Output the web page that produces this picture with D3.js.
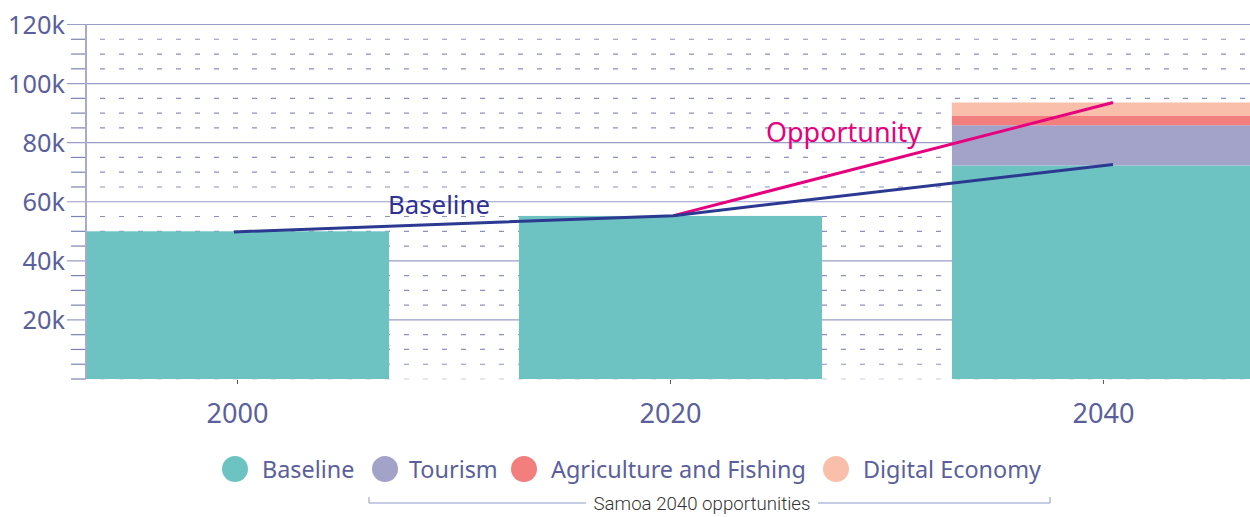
<!DOCTYPE html>
<html><head><meta charset="utf-8">
<script src="https://cdn.jsdelivr.net/npm/d3@7"></script>
<style>body{margin:0;background:#fff}svg{display:block;font-family:"Noto Sans",Roboto,sans-serif}</style>
</head><body><svg id="c" width="1250" height="517"></svg>
<script>
const categories = ["2000","2020","2040"];
const years = [2000,2020,2040];
const baselineVals = [50, 55.2, 72.3];
const tourismVals = [0, 0, 13.6];
const agricultureVals = [0, 0, 3.3];
const digitalVals = [0, 0, 4.4];
const baselineLine = [49.8, 55.3, 72.6];
const opportunityLine = [null, 55.3, 93.6];
const seriesNames = ["Baseline","Tourism","Agriculture and Fishing","Digital Economy"];
const colors = ["#6dc3c1","#a3a3ca","#f27e7e","#f9bfaa"];
const majorTicks = [20,40,60,80,100,120];
const tickLabels = ["20k","40k","60k","80k","100k","120k"];
const minorTicks = d3.range(0,121,5).filter(v=>v%20!==0 || v===0);

const svg = d3.select("#c");
const y = d3.scaleLinear().domain([0,120]).range([379,24.5]);
const x = d3.scaleBand().domain(categories).range([86,1255]).paddingInner(0.3).paddingOuter(0);
const xl = d3.scaleLinear().domain([2000,2040]).range([234,1113]);
const axisCol = "#5b5f9c";

// fit font size of a text selection so that node width equals target
function fit(sel, target){
  const n = sel.node(); const fs = parseFloat(sel.attr("font-size"));
  const w = n.getComputedTextLength();
  sel.attr("font-size", fs*target/w);
  return fs*target/w;
}

svg.append("g").selectAll("line").data(minorTicks).join("line")
  .attr("x1",100).attr("x2",1250).attr("y1",d=>y(d)).attr("y2",d=>y(d))
  .attr("stroke",d=>d===0?"#c9cbe2":"#8c90bd").attr("stroke-width",1.2).attr("stroke-dasharray","5,14");
svg.append("g").selectAll("line").data(minorTicks).join("line")
  .attr("x1",71).attr("x2",86).attr("y1",d=>y(d)).attr("y2",d=>y(d))
  .attr("stroke","#7d81b3").attr("stroke-width",1.2);
svg.append("g").selectAll("line").data(majorTicks).join("line")
  .attr("x1",67).attr("x2",1250).attr("y1",d=>y(d)).attr("y2",d=>y(d))
  .attr("stroke","#9a9dc6").attr("stroke-width",1.2);

const rows = categories.map((c,i)=>({cat:c, Baseline:baselineVals[i], Tourism:tourismVals[i], "Agriculture and Fishing":agricultureVals[i], "Digital Economy":digitalVals[i]}));
const stack = d3.stack().keys(seriesNames)(rows);
svg.append("g").selectAll("g").data(stack).join("g").attr("fill",(d,i)=>colors[i])
  .selectAll("rect").data(d=>d).join("rect")
  .attr("x",d=>x(d.data.cat)).attr("width",x.bandwidth())
  .attr("y",d=>y(d[1])).attr("height",d=>y(d[0])-y(d[1]));

svg.append("line").attr("x1",86).attr("x2",86).attr("y1",y(120)).attr("y2",y(0))
  .attr("stroke","#a7a9d0").attr("stroke-width",2);
svg.append("g").selectAll("line").data(categories).join("line")
  .attr("x1",d=>x(d)+x.bandwidth()/2).attr("x2",d=>x(d)+x.bandwidth()/2)
  .attr("y1",380).attr("y2",384).attr("stroke","#555").attr("stroke-width",1);

const yt = svg.append("g").selectAll("text").data(majorTicks).join("text")
  .attr("x",65).attr("y",d=>y(d)+9.5).attr("text-anchor","end")
  .attr("font-size",26).attr("fill",axisCol).text((d,i)=>tickLabels[i]);
const ytFs = fit(d3.select(yt.nodes()[5]), 57);
yt.attr("font-size", ytFs);
const xt = svg.append("g").selectAll("text").data(categories).join("text")
  .attr("x",d=>x(d)+x.bandwidth()/2).attr("y",423).attr("text-anchor","middle")
  .attr("font-size",27).attr("fill",axisCol).text(d=>d);
const xtFs = fit(d3.select(xt.nodes()[0]), 62);
xt.attr("font-size", xtFs);

const line = d3.line().defined(d=>d[1]!=null).x(d=>xl(d[0])).y(d=>y(d[1]));
svg.append("path").datum(years.map((yr,i)=>[yr,opportunityLine[i]]))
  .attr("d",line).attr("fill","none").attr("stroke","#e6007e").attr("stroke-width",3);
svg.append("path").datum(years.map((yr,i)=>[yr,baselineLine[i]]))
  .attr("d",line).attr("fill","none").attr("stroke","#2b3990").attr("stroke-width",3);
fit(svg.append("text").attr("x",388).attr("y",214).attr("font-size",25)
  .attr("fill","#2e3192").text("Baseline"), 102);
fit(svg.append("text").attr("x",766).attr("y",142).attr("font-size",25)
  .attr("fill","#e6007e").text("Opportunity"), 155);

const legX = [235,385,524,836];
const lg = svg.append("g").selectAll("g").data(seriesNames).join("g")
  .attr("transform",(d,i)=>`translate(${legX[i]},469)`);
lg.append("circle").attr("r",13).attr("fill",(d,i)=>colors[i]);
const lt = lg.append("text").attr("x",d=>d==="Baseline"?27:(d==="Tourism"?24:27)).attr("y",9)
  .attr("font-size",24).attr("fill",axisCol).text(d=>d);
const lfs = fit(d3.select(lt.nodes()[2]), 255);
lt.attr("font-size", lfs);

svg.append("path").attr("d","M369,497V503H586M818,503H1050V497")
  .attr("fill","none").attr("stroke","#8c9ac8").attr("stroke-width",1);
const st = svg.append("text").attr("x",702).attr("y",510).attr("text-anchor","middle")
  .attr("font-family","Roboto").attr("font-size",19).attr("font-weight",300).attr("fill","#333").text("Samoa 2040 opportunities");
fit(st, 217);
</script></body></html>
